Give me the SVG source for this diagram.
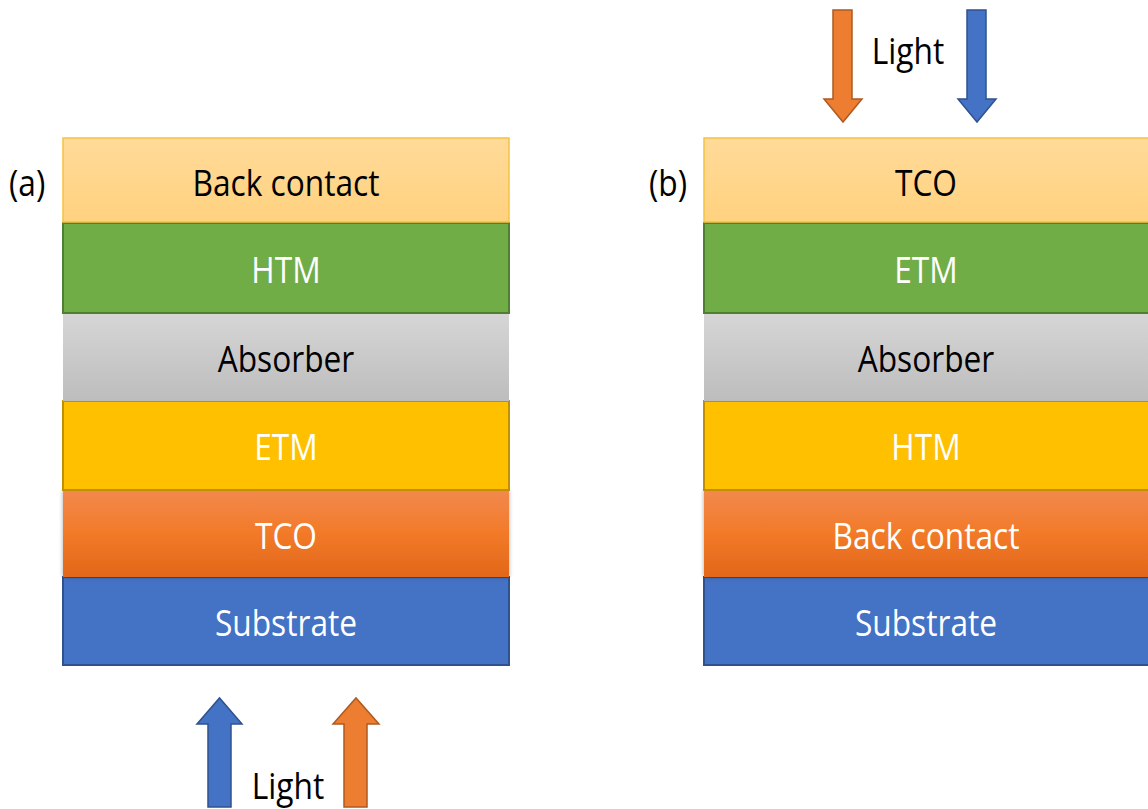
<svg xmlns="http://www.w3.org/2000/svg" width="1148" height="809" viewBox="0 0 1148 809">
  <defs>
    <linearGradient id="gBack" x1="0" y1="0" x2="0" y2="1">
      <stop offset="0" stop-color="#FFDA99"/>
      <stop offset="1" stop-color="#FFD27F"/>
    </linearGradient>
    <linearGradient id="gAbs" x1="0" y1="0" x2="0" y2="1">
      <stop offset="0" stop-color="#D6D6D6"/>
      <stop offset="1" stop-color="#BDBDBD"/>
    </linearGradient>
    <linearGradient id="gOrange" x1="0" y1="0" x2="0" y2="1">
      <stop offset="0" stop-color="#F2894E"/>
      <stop offset="0.5" stop-color="#F27A28"/>
      <stop offset="1" stop-color="#E2671A"/>
    </linearGradient>
    <filter id="soft" x="-5%" y="-5%" width="110%" height="110%">
      <feGaussianBlur in="SourceAlpha" stdDeviation="2"/>
      <feOffset dx="0" dy="0" result="b"/>
      <feComponentTransfer><feFuncA type="linear" slope="0.35"/></feComponentTransfer>
      <feMerge><feMergeNode/><feMergeNode in="SourceGraphic"/></feMerge>
    </filter>
  </defs>
  <style>
    text { font-family: "Open Sans", "Liberation Sans", sans-serif; font-size: 36px; text-anchor: middle; }
    .dark { fill: #000000; }
    .light { fill: #FFFFFF; }
    .back { fill: url(#gBack); stroke: #F5C243; stroke-width: 1.5; }
    .htm { fill: #70AD47; stroke: #507E32; stroke-width: 2; }
    .abs { fill: url(#gAbs); stroke: none; }
    .etm { fill: #FFC000; stroke: #BF9000; stroke-width: 2; }
    .orange { fill: url(#gOrange); stroke: none; }
    .sub { fill: #4472C4; stroke: #2F528F; stroke-width: 2; }
    .arrB { fill: #4472C4; stroke: #2F528F; stroke-width: 1.5; }
    .arrO { fill: #ED7D31; stroke: #AE5A21; stroke-width: 1.5; }
    .tag { text-anchor: start; }
  </style>

  <!-- (a) substrate-side illumination stack -->
  <g id="stackA">
    <g id="a-substrate"><rect class="sub" x="63" y="577" width="446" height="88"/><text class="light" x="286" y="636" transform="translate(286 0) scale(0.88 1) translate(-286 0)">Substrate</text></g>
    <g id="a-tco"><rect class="orange" x="63" y="490" width="446" height="87" filter="url(#soft)"/><text class="light" x="286" y="549" transform="translate(286 0) scale(0.88 1) translate(-286 0)">TCO</text></g>
    <g id="a-etm"><rect class="etm" x="63" y="401" width="446" height="89"/><text class="light" x="286" y="460" transform="translate(286 0) scale(0.88 1) translate(-286 0)">ETM</text></g>
    <g id="a-absorber"><rect class="abs" x="63" y="313" width="446" height="88"/><text class="dark" x="286" y="372" transform="translate(286 0) scale(0.88 1) translate(-286 0)">Absorber</text></g>
    <g id="a-htm"><rect class="htm" x="63" y="223" width="446" height="90"/><text class="light" x="286" y="283" transform="translate(286 0) scale(0.88 1) translate(-286 0)">HTM</text></g>
    <g id="a-back"><rect class="back" x="63" y="138" width="446" height="84"/><text class="dark" x="286" y="196" transform="translate(286 0) scale(0.88 1) translate(-286 0)">Back contact</text></g>
    <text id="a-tag" class="dark tag" x="9" y="196" transform="translate(9 0) scale(0.88 1) translate(-9 0)">(a)</text>
  </g>

  <!-- (b) top illumination stack, runs past the right edge -->
  <g id="stackB">
    <g id="b-substrate"><rect class="sub" x="704" y="577" width="446" height="88"/><text class="light" x="926" y="636" transform="translate(926 0) scale(0.88 1) translate(-926 0)">Substrate</text></g>
    <g id="b-back"><rect class="orange" x="704" y="490" width="446" height="87" filter="url(#soft)"/><text class="light" x="926" y="549" transform="translate(926 0) scale(0.88 1) translate(-926 0)">Back contact</text></g>
    <g id="b-htm"><rect class="etm" x="704" y="401" width="446" height="89"/><text class="light" x="926" y="460" transform="translate(926 0) scale(0.88 1) translate(-926 0)">HTM</text></g>
    <g id="b-absorber"><rect class="abs" x="704" y="313" width="446" height="88"/><text class="dark" x="926" y="372" transform="translate(926 0) scale(0.88 1) translate(-926 0)">Absorber</text></g>
    <g id="b-etm"><rect class="htm" x="704" y="223" width="446" height="90"/><text class="light" x="926" y="283" transform="translate(926 0) scale(0.88 1) translate(-926 0)">ETM</text></g>
    <g id="b-tco"><rect class="back" x="704" y="138" width="446" height="84"/><text class="dark" x="926" y="196" transform="translate(926 0) scale(0.88 1) translate(-926 0)">TCO</text></g>
    <text id="b-tag" class="dark tag" x="649" y="196" transform="translate(649 0) scale(0.88 1) translate(-649 0)">(b)</text>
  </g>

  <!-- light arrows -->
  <g id="connectors">
    <path class="arrB" d="M208,807 L208,724 L197,724 L219.5,698 L242,724 L231,724 L231,807 Z"/>
    <path class="arrO" d="M344,807 L344,724 L333,724 L356,698 L379,724 L367,724 L367,807 Z"/>
    <path class="arrO" d="M833,10 L852,10 L852,99 L862,99 L843,122 L824,99 L833,99 Z"/>
    <path class="arrB" d="M967,10 L986,10 L986,99 L996,99 L977,122 L958,99 L967,99 Z"/>
  </g>
  <text id="light-bottom" class="dark" x="288" y="799" transform="translate(288 0) scale(0.88 1) translate(-288 0)">Light</text>
  <text id="light-top" class="dark" x="908" y="64" transform="translate(908 0) scale(0.88 1) translate(-908 0)">Light</text>
</svg>
